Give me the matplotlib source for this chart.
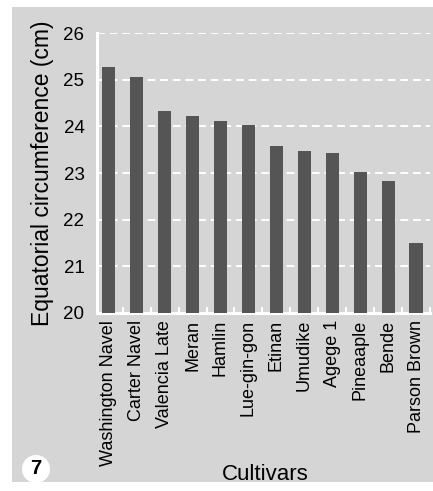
import matplotlib
matplotlib.use("Agg")
import matplotlib.pyplot as plt
from matplotlib.patches import Rectangle, Ellipse

cultivars = ["Washington Navel", "Carter Navel", "Valencia Late", "Meran", "Hamlin",
             "Lue-gin-gon", "Etinan", "Umudike", "Agege 1", "Pineaaple", "Bende",
             "Parson Brown"]
circumference = [25.27, 25.06, 24.33, 24.22, 24.12, 24.03, 23.58, 23.47, 23.43,
                 23.02, 22.83, 21.50]
y_ticks = [20, 21, 22, 23, 24, 25, 26]

PANEL = "#d5d5d5"
BAR = "#555555"

plt.rcParams["font.family"] = ["Liberation Sans", "DejaVu Sans"]

W, H = 433, 491
fig = plt.figure(figsize=(W / 100, H / 100), dpi=100)
fig.patch.set_facecolor("white")
# scanned grey panel
fig.patches.append(Rectangle((12 / W, 1 - 482 / H), (W - 12) / W, (482 - 7) / H,
                             transform=fig.transFigure, facecolor=PANEL,
                             edgecolor="none", zorder=-10))

ax = fig.add_axes([97 / W, 1 - 313 / H, (430 - 97) / W, (313 - 33) / H])
ax.set_zorder(5)
ax.set_facecolor("none")
x = range(len(cultivars))
ax.bar(x, [v - 20 for v in circumference], bottom=20, width=0.47, color=BAR,
       zorder=3)
ax.set_xlim(-0.42, 11.5)
ax.set_ylim(20, 26)
ax.set_yticks(y_ticks)
ax.set_yticklabels([str(t) for t in y_ticks], fontsize=13.5)
ax.set_xticks(list(x))
ax.set_xticklabels(cultivars, rotation=90, fontsize=13)
ax.set_xticks([i + 0.5 for i in x], minor=True)
ax.tick_params(axis="x", which="major", length=0, pad=5)
ax.tick_params(axis="x", which="minor", direction="in", length=4, width=1.5,
               color="white")
ax.tick_params(axis="y", length=0, pad=9)
for y in y_ticks[1:]:
    ax.axhline(y, color="white", lw=1.4, ls=(0, (4, 2.5)), zorder=2)
for s in ("top", "right"):
    ax.spines[s].set_visible(False)
for s in ("left", "bottom"):
    ax.spines[s].set_color("white")
    ax.spines[s].set_linewidth(2.2)
ax.set_ylabel("Equatorial circumference (cm)", fontsize=16.5, labelpad=7)

fig.text(265 / W, 1 - 474 / H, "Cultivars", fontsize=16, ha="center", va="center",
         zorder=6)
fig.patches.append(Ellipse((36 / W, 1 - 469 / H), 28 / W, 28 / H,
                           transform=fig.transFigure, facecolor="white",
                           edgecolor="none", zorder=-5))
fig.text(36 / W, 1 - 469 / H, "7", fontsize=14.5, fontweight="bold",
         ha="center", va="center", zorder=6)

fig.savefig("out.png", dpi=100)
